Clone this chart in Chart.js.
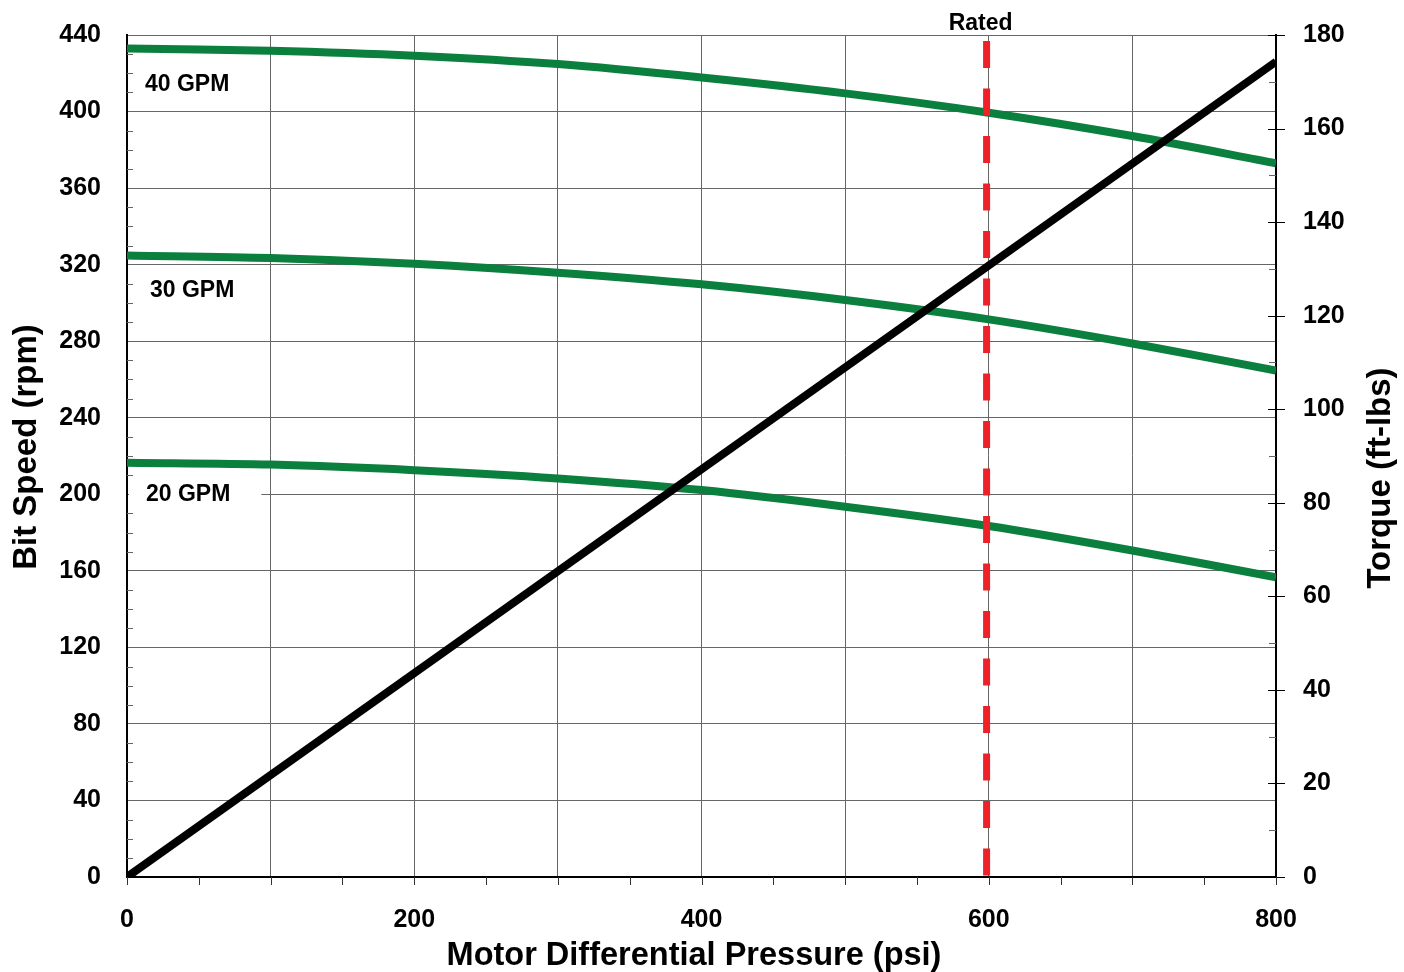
<!DOCTYPE html>
<html lang="en">
<head>
<meta charset="UTF-8">
<title>Bit Speed and Torque vs Motor Differential Pressure</title>
<script src="https://cdn.jsdelivr.net/npm/chart.js"></script>
<style>
  html, body { margin: 0; padding: 0; background: #fff; }
  #wrap { width: 1404px; height: 972px; }
</style>
</head>
<body>
<div id="wrap"><canvas id="chart"></canvas></div>
<script>
// data
const pressure = [0, 100, 200, 300, 400, 500, 600, 700, 800];
const speed40 = [433, 431.8, 429.2, 424.8, 417.8, 409.5, 399.4, 387.2, 373];
const speed30 = [324.8, 323.5, 320.5, 315.8, 309.7, 301.5, 291.4, 278.8, 264.6];
const speed20 = [216.5, 215.5, 212.6, 208.3, 202.2, 193.5, 183.4, 170.6, 156.6];
const torquePressure = [0, 800];
const torque = [0, 174.3];
const ratedPressure = 598.5;
const ratedSpan = [440, 0];
const flowLabels = ['40 GPM', '30 GPM', '20 GPM'];
const flowLabelX = [12.5, 16, 13.2];
const flowLabelY = [414.7, 307, 200.1];

const FONT = '"Liberation Sans", Arial, Helvetica, sans-serif';
const GREEN = '#0b7f3e';
const GRID = '#666';

const pts = (xs, ys) => xs.map((x, i) => ({ x: x, y: ys[i] }));

// fixed axis sizes so the plot area lands where the reference has it
function fixWidth(w) {
    return s => { s.width = w; s.paddingTop = 0; s.paddingBottom = 0; };
}

// minor ticks, flow labels, "Rated" and axis titles
const decorations = {
    id: 'decorations',
    beforeDatasetsDraw(chart) {
        const { ctx, chartArea: a, scales } = chart;
        ctx.save();
        // flow labels on white boxes (kept off the axis line)
        ctx.font = 'bold 23px ' + FONT;
        ctx.textBaseline = 'middle';
        ctx.textAlign = 'left';
        flowLabels.forEach((txt, i) => {
            const x = scales.x.getPixelForValue(flowLabelX[i]);
            const y = scales.y.getPixelForValue(flowLabelY[i]);
            const w = ctx.measureText(txt).width;
            const x0 = a.left + 2;
            ctx.fillStyle = '#fff';
            ctx.fillRect(x0, y - 14, x + w + 31 - x0, 28);
            ctx.fillStyle = '#000';
            ctx.fillText(txt, x, y + 1);
        });

        ctx.lineWidth = 1;
        // left axis, every 10 rpm, inside
        for (let v = 0; v <= 440; v += 10) {
            if (v % 40 === 0) continue;
            const y = Math.round(scales.y.getPixelForValue(v)) + 0.5;
            ctx.strokeStyle = GRID;
            ctx.beginPath(); ctx.moveTo(a.left, y); ctx.lineTo(a.left + 6, y); ctx.stroke();
        }
        // right axis, majors cross, minors inside
        for (let v = 0; v <= 180; v += 10) {
            const y = Math.round(scales.y1.getPixelForValue(v)) + 0.5;
            ctx.beginPath();
            if (v % 20 === 0) {
                ctx.strokeStyle = '#000';
                ctx.moveTo(a.right - 8, y); ctx.lineTo(a.right + 9, y);
            } else {
                ctx.strokeStyle = GRID;
                ctx.moveTo(a.right - 7, y); ctx.lineTo(a.right, y);
            }
            ctx.stroke();
        }
        // bottom axis every 50 psi, outside
        ctx.strokeStyle = '#333';
        for (let v = 0; v <= 800; v += 50) {
            const x = Math.round(scales.x.getPixelForValue(v)) + 0.5;
            ctx.beginPath(); ctx.moveTo(x, a.bottom); ctx.lineTo(x, a.bottom + 8); ctx.stroke();
        }
        ctx.restore();
    },
    afterDraw(chart) {
        const { ctx, scales } = chart;
        ctx.save();
        ctx.fillStyle = '#000';
        ctx.font = 'bold 23px ' + FONT;
        ctx.textAlign = 'center';
        ctx.textBaseline = 'alphabetic';
        ctx.fillText('Rated', scales.x.getPixelForValue(ratedPressure) - 6, 30);

        ctx.font = 'bold 32.5px ' + FONT;
        ctx.fillText('Motor Differential Pressure (psi)', 694, 965);

        ctx.font = 'bold 33px ' + FONT;
        ctx.save();
        ctx.translate(36, 447);
        ctx.rotate(-Math.PI / 2);
        ctx.fillText('Bit Speed (rpm)', 0, 0);
        ctx.restore();

        ctx.save();
        ctx.translate(1390, 478);
        ctx.rotate(-Math.PI / 2);
        ctx.fillText('Torque (ft-lbs)', 0, 0);
        ctx.restore();
        ctx.restore();
    }
};

const lineStyle = { borderWidth: 8, pointRadius: 0, fill: false, borderCapStyle: 'butt' };

new Chart(document.getElementById('chart'), {
    type: 'line',
    data: {
        datasets: [
            { ...lineStyle, label: 'Torque', data: pts(torquePressure, torque), borderColor: '#000', yAxisID: 'y1' },
            { ...lineStyle, label: 'Rated', data: pts([ratedPressure, ratedPressure], ratedSpan), borderColor: '#ed2127',
              borderWidth: 7, borderDash: [27, 20.5], borderDashOffset: 41.5, yAxisID: 'y' },
            { ...lineStyle, label: '40 GPM', data: pts(pressure, speed40), borderColor: GREEN, tension: 0.3, yAxisID: 'y' },
            { ...lineStyle, label: '30 GPM', data: pts(pressure, speed30), borderColor: GREEN, tension: 0.3, yAxisID: 'y' },
            { ...lineStyle, label: '20 GPM', data: pts(pressure, speed20), borderColor: GREEN, tension: 0.3, yAxisID: 'y' }
        ]
    },
    options: {
        responsive: true,
        maintainAspectRatio: false,
        animation: false,
        layout: { padding: { top: 35, left: 0, right: 0, bottom: 0 } },
        plugins: { legend: { display: false }, tooltip: { enabled: false } },
        scales: {
            x: {
                type: 'linear', min: 0, max: 800,
                afterFit: s => { s.height = 95; s.paddingLeft = 0; s.paddingRight = 0; },
                border: { color: '#000', width: 2 },
                grid: { color: GRID, lineWidth: 1, drawTicks: false },
                ticks: {
                    stepSize: 100, autoSkip: false, maxRotation: 0, padding: 28,
                    color: '#000', font: { family: FONT, size: 25, weight: 'bold' },
                    callback: v => (v % 200 === 0 ? v : '')
                }
            },
            y: {
                position: 'left', min: 0, max: 440,
                afterFit: fixWidth(127),
                border: { color: '#000', width: 2 },
                grid: { color: GRID, lineWidth: 1, drawTicks: false },
                ticks: { stepSize: 40, padding: 26, color: '#000', font: { family: FONT, size: 25, weight: 'bold' } }
            },
            y1: {
                position: 'right', min: 0, max: 180,
                afterFit: fixWidth(128),
                border: { color: '#000', width: 2 },
                grid: { drawOnChartArea: false, drawTicks: false },
                ticks: { stepSize: 20, padding: 27, color: '#000', font: { family: FONT, size: 25, weight: 'bold' } }
            }
        }
    },
    plugins: [decorations]
});
</script>
</body>
</html>
